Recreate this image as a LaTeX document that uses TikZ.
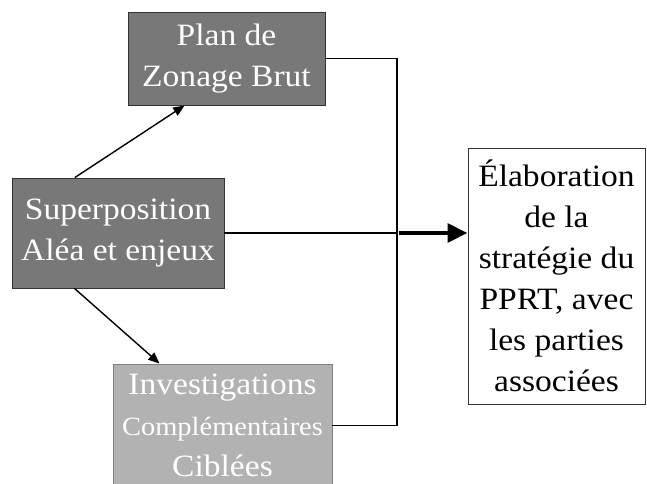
\documentclass[tikz,border=0pt]{standalone}
\usepackage{fontspec}
\setmainfont{Liberation Serif}[FakeStretch=1.08]
\usetikzlibrary{arrows.meta}

\begin{document}
\begin{tikzpicture}[
  block/.style={draw=black!80,line width=.8pt,fill=black!53,text=white,align=center,
    inner sep=0pt,font=\fontsize{26.5}{35}\selectfont},
  route/.style={line width=1.2pt,-{Triangle[length=3.4mm,width=2.8mm]}},
  link/.style={line width=1.1pt}
]
  \useasboundingbox (0,0) rectangle (19.41,-14.49);
  \node[block,minimum width=5.91cm,minimum height=2.79cm] (plan) at (6.795,-1.755)
    {Plan de\\Zonage Brut};
  \node[block,minimum width=6.36cm,minimum height=3.3cm] (superpos) at (3.54,-6.99)
    {Superposition\\Aléa et enjeux};
  \node[block,draw=black!50,fill=black!30,minimum width=6.57cm,minimum height=3.7cm] (invest) at (6.675,-12.77)
    {Investigations\\{\fontsize{22.5}{35}\selectfont Complémentaires}\\Ciblées};
  \node[block,fill=white,text=black,minimum width=5.31cm,minimum height=7.68cm] (elab) at (16.695,-8.28)
    {Élaboration\\de la\\stratégie du\\PPRT, avec\\les parties\\associées};
  \coordinate (bus) at (11.91,-6.99);
  \draw[route] ([xshift=1.9cm]superpos.north west) -- ([xshift=1.71cm]plan.south west);
  \draw[route] ([xshift=1.89cm]superpos.south west) -- ([xshift=1.41cm]invest.north west);
  \draw[link] (plan.east) -| (bus) |- (invest.east);
  \draw[link] (superpos.east) -- (bus);
  \draw[line width=4.2pt,-{Triangle[length=6mm,width=5.5mm]}] ([xshift=2pt]bus) -- (elab.west |- bus);
\end{tikzpicture}
\end{document}
